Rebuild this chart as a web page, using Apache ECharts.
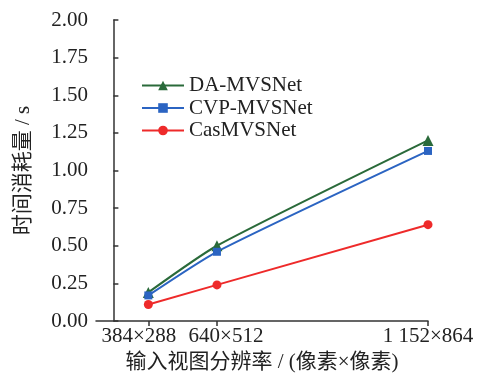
<!DOCTYPE html>
<html><head><meta charset="utf-8">
<script src="https://cdn.jsdelivr.net/npm/echarts@6/dist/echarts.min.js"></script>
<style>html,body{margin:0;padding:0;background:#fff}#c{width:479px;height:379px}</style>
</head><body><div id="c"></div>
<script>
// x values: image size in megapixels (width × height / 1e6)
const xLabels = ['384×288', '640×512', '1 152×864'];
const xValues = [0.110592, 0.327680, 0.995328];
const daMVSNet = [0.19, 0.50, 1.20];
const cvpMVSNet = [0.17, 0.46, 1.13];
const casMVSNet = [0.11, 0.24, 0.64];

const font = '"Liberation Serif", "Times New Roman", "Noto Sans CJK SC", serif';
const pair = (arr) => arr.map((v, i) => [xValues[i], v]);
const labelStyles = ['l0', 'l1', 'l2'];
const richBase = {fontFamily: font, fontSize: 21, color: '#222'};
const chart = echarts.init(document.getElementById('c'));
chart.setOption({
  animation: false,
  grid: {left: 96, right: 51, top: 20, bottom: 58},
  legend: {
    orient: 'vertical', left: 136, top: 70, itemWidth: 42, itemHeight: 12, itemGap: 1.5,
    textStyle: {fontFamily: font, fontSize: 21, color: '#222', lineHeight: 21},
    data: ['DA-MVSNet', 'CVP-MVSNet', 'CasMVSNet']
  },
  xAxis: {
    type: 'value', min: -0.055, max: 0.995328,
    name: '输入视图分辨率 / (像素×像素)', nameLocation: 'middle', nameGap: 31,
    nameTextStyle: {fontFamily: font, fontSize: 21, color: '#222'},
    splitLine: {show: false},
    axisLine: {lineStyle: {color: '#333', width: 1.5}},
    axisTick: {customValues: xValues, length: 5, lineStyle: {color: '#333', width: 1.5}},
    axisLabel: {customValues: xValues, fontFamily: font, fontSize: 21, color: '#222', margin: 5,
      hideOverlap: false,
      formatter: (v) => { const i = xValues.indexOf(v); return i >= 0 ? '{' + labelStyles[i] + '|' + xLabels[i] + '}' : ''; },
      rich: {
        l0: Object.assign({padding: [0, 19, 0, 0]}, richBase),
        l1: Object.assign({padding: [0, 0, 0, 18]}, richBase),
        l2: Object.assign({}, richBase)
      }}
  },
  yAxis: {
    type: 'value', min: 0, max: 2, interval: 0.25,
    name: '时间消耗量 / s', nameLocation: 'middle', nameGap: 62, nameRotate: 90,
    nameTextStyle: {fontFamily: font, fontSize: 21, color: '#222'},
    splitLine: {show: false},
    axisLine: {show: true, lineStyle: {color: '#333', width: 1.5}},
    axisTick: {show: true, inside: true, length: 5, lineStyle: {color: '#333', width: 1.5}},
    axisLabel: {fontFamily: font, fontSize: 21, color: '#222', margin: 8,
      formatter: (v) => v.toFixed(2)}
  },
  series: [
    {name: 'DA-MVSNet', type: 'line', data: pair(daMVSNet), smooth: 0.2,
     symbol: 'triangle', symbolSize: 11, color: '#2a6a3a', lineStyle: {width: 2}},
    {name: 'CVP-MVSNet', type: 'line', data: pair(cvpMVSNet), smooth: 0.2,
     symbol: 'rect', symbolSize: 8, color: '#2b64c2', lineStyle: {width: 2}},
    {name: 'CasMVSNet', type: 'line', data: pair(casMVSNet),
     symbol: 'circle', symbolSize: 9, color: '#ee2a2a', lineStyle: {width: 2}}
  ]
});
</script></body></html>
